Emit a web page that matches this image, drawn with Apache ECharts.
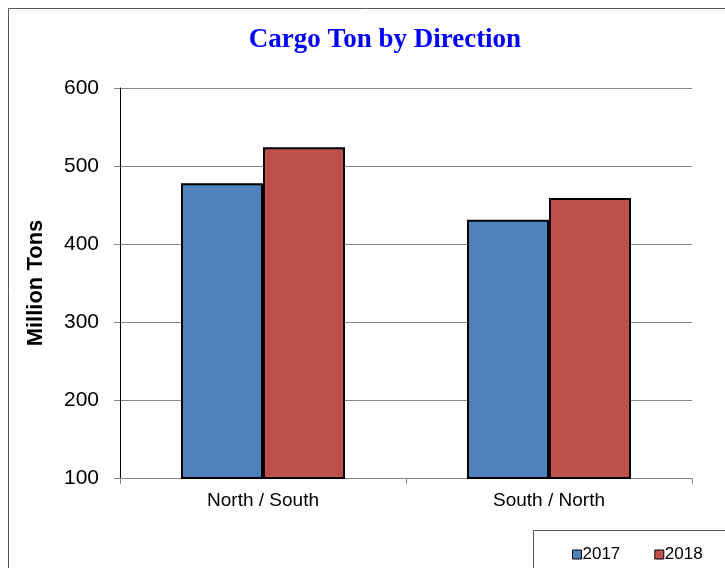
<!DOCTYPE html>
<html><head><meta charset="utf-8">
<script src="https://cdn.jsdelivr.net/npm/echarts@6/dist/echarts.min.js"></script>
<style>html,body{margin:0;padding:0;background:#fff}#c{width:725px;height:568px}</style>
</head><body><div id="c"></div>
<script>
var categories = ['North / South', 'South / North'];
var seriesNames = ['2017', '2018'];
var values2017 = [478, 431];
var values2018 = [524, 459];
var yTicks = [100, 200, 300, 400, 500, 600];

var chart = echarts.init(document.getElementById('c'));
chart.setOption({
  animation: false,
  backgroundColor: '#fff',
  title: {
    text: 'Cargo Ton by Direction',
    left: 380, top: 22, textAlign: 'center',
    textStyle: {fontFamily: 'Liberation Serif', fontWeight: 'bold', fontSize: 27, color: '#0000FF'}
  },
  graphic: [
    {type: 'rect', shape: {x: 8.5, y: 8.5, width: 730, height: 570}, style: {fill: 'none', stroke: '#555', lineWidth: 1}, z: -1},
    {type: 'rect', shape: {x: 533.5, y: 530.5, width: 200, height: 50}, style: {fill: '#fff', stroke: '#555', lineWidth: 1}, z: 1}
  ],
  legend: {
    data: seriesNames,
    left: 567, top: 541,
    itemWidth: 9, itemHeight: 9, itemGap: 34,
    icon: 'rect',
    itemStyle: {borderColor: '#000', borderWidth: 1},
    textStyle: {fontFamily: 'Liberation Sans', fontSize: 17, color: '#000', padding: [0, 0, 0, -4]},
    z: 5
  },
  grid: {left: 120, right: 33, top: 88, bottom: 90, containLabel: false},
  xAxis: {
    type: 'category', data: categories,
    axisLine: {lineStyle: {color: '#888', width: 1}},
    axisTick: {show: true, length: 6, lineStyle: {color: '#888'}},
    axisLabel: {fontFamily: 'Liberation Sans', fontSize: 19, color: '#000', margin: 13}
  },
  yAxis: {
    type: 'value', min: 100, max: 600, interval: 100,
    name: 'Million Tons', nameLocation: 'middle', nameGap: 73, nameRotate: 90,
    nameTextStyle: {fontFamily: 'Liberation Sans', fontWeight: 'bold', fontSize: 22, color: '#000'},
    axisLine: {show: true, lineStyle: {color: '#000', width: 1}},
    axisTick: {show: true, length: 6, lineStyle: {color: '#888'}},
    axisLabel: {fontFamily: 'Liberation Sans', fontSize: 21, color: '#000', margin: 21,
      formatter: function (v) { return yTicks.indexOf(v) >= 0 ? String(v) : ''; }},
    splitLine: {show: true, lineStyle: {color: '#888', width: 1}}
  },
  series: [
    {name: seriesNames[0], type: 'bar', data: values2017, barWidth: 82, barGap: '0%',
      itemStyle: {color: '#4F81BD', borderColor: '#000', borderWidth: 2}},
    {name: seriesNames[1], type: 'bar', data: values2018, barWidth: 82, barGap: '0%',
      itemStyle: {color: '#C0504D', borderColor: '#000', borderWidth: 2}}
  ]
});
</script></body></html>
